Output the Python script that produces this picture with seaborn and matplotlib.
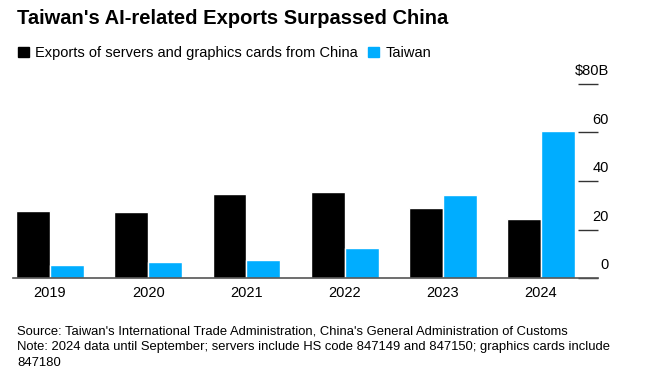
import matplotlib
matplotlib.use("Agg")
import matplotlib.pyplot as plt
import seaborn as sns
import pandas as pd
from matplotlib.patches import Patch

# Data (billions of USD)
years = ["2019", "2020", "2021", "2022", "2023", "2024"]
china = [27.5, 27.1, 34.5, 35.5, 28.9, 24.2]
taiwan = [5.3, 6.7, 7.5, 12.3, 34.2, 60.8]
series_names = ["Exports of servers and graphics cards from China", "Taiwan"]
y_ticks = [0, 20, 40, 60, 80]
y_tick_labels = ["0", "20", "40", "60", "$80B"]

df = pd.DataFrame({
    "year": years * 2,
    "value": china + taiwan,
    "series": [series_names[0]] * len(years) + [series_names[1]] * len(years),
})

colors = ["#000000", "#00adff"]

sns.set_style("white")
plt.rcParams["font.family"] = ["Liberation Sans", "DejaVu Sans"]
plt.rcParams["text.color"] = "black"
plt.rcParams["xtick.color"] = "black"

fig = plt.figure(figsize=(6.55, 3.73), dpi=100)
ax = fig.add_axes([13 / 655, 1 - 278 / 373, (598 - 13) / 655, (278 - 84) / 373])

sns.barplot(data=df, x="year", y="value", hue="series", palette=colors,
            width=0.69, saturation=1, ax=ax, legend=False)

ax.set_ylim(0, 80)
ax.set_xlim(-0.377, 5.58)
ax.set_xlabel("")
ax.set_ylabel("")

for s in ["top", "left", "right"]:
    ax.spines[s].set_visible(False)
ax.spines["bottom"].set_color("#555555")
ax.spines["bottom"].set_linewidth(1.2)

ax.tick_params(axis="x", length=0, labelsize=10.5, pad=6, labelcolor="black")
ax.yaxis.tick_right()
ax.set_yticks(y_ticks)
ax.set_yticklabels([])
ax.tick_params(axis="y", direction="in", length=14.5, width=1.0,
               color="#333333", right=True, left=False, pad=0)

for v, lab in zip(y_ticks, y_tick_labels):
    ax.annotate(lab, xy=(1.0, v), xycoords=("axes fraction", "data"),
                xytext=(8, 4), textcoords="offset points",
                ha="right", va="bottom", fontsize=10.5, color="black")

fig.text(17 / 655, 1 - 18 / 373, "Taiwan's AI-related Exports Surpassed China",
         fontsize=14.5, fontweight="bold", va="center", ha="left", color="black")

handles = [Patch(color=c, label=n) for c, n in zip(colors, series_names)]
fig.legend(handles=handles, loc="center left", bbox_to_anchor=(12 / 655, 1 - 53 / 373),
           ncol=2, frameon=False, fontsize=10.5, handlelength=0.75, handleheight=0.75,
           handletextpad=0.45, columnspacing=0.7, borderaxespad=0,
           labelcolor="black")

footer = ("Source: Taiwan's International Trade Administration, China's General Administration of Customs\n"
          "Note: 2024 data until September; servers include HS code 847149 and 847150; graphics cards include\n"
          "847180")
fig.text(17 / 655, 1 - 325 / 373, footer, fontsize=9.4, va="top", ha="left",
         linespacing=1.45, color="black")

fig.savefig("out.png", dpi=100)
